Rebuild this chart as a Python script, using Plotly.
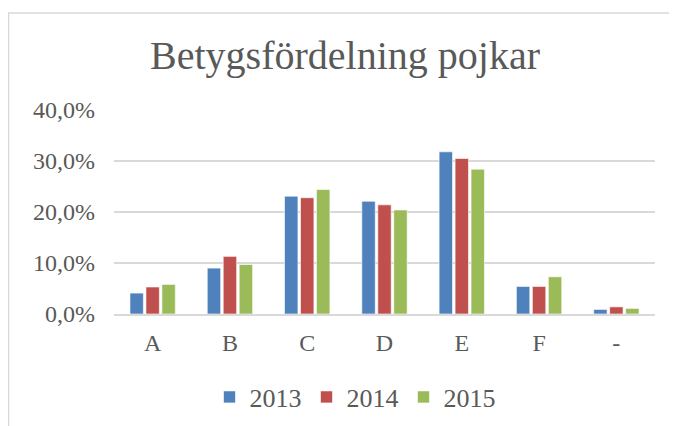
import plotly.graph_objects as go

categories = ["A", "B", "C", "D", "E", "F", "-"]
series_names = ["2013", "2014", "2015"]
values_2013 = [4.1, 9.0, 23.1, 22.1, 31.8, 5.4, 0.9]
values_2014 = [5.3, 11.3, 22.8, 21.4, 30.5, 5.4, 1.4]
values_2015 = [5.8, 9.7, 24.4, 20.4, 28.4, 7.3, 1.1]
colors = ["#4F81BD", "#C0504D", "#9BBB59"]
y_ticks = [0, 0.1, 0.2, 0.3, 0.4]

FONT = "Liberation Serif"
TEXT = "#595959"

fig = go.Figure()
for name, vals, col in zip(series_names, [values_2013, values_2014, values_2015], colors):
    fig.add_trace(go.Bar(
        x=categories, y=[v / 100 for v in vals], name=name,
        marker=dict(color=col, line=dict(color="rgba(255,255,255,0.6)", width=1)),
    ))

# page body has an 8px margin; figure coordinates = screen - 8
OFF = 8
W, H = 677 - OFF, 426 - OFF
L, R, T, B = 114 - OFF, 655 - OFF, 110 - OFF, 314 - OFF
pw, ph = R - L, B - T

fig.update_layout(
    width=W, height=H,
    margin=dict(l=L, r=W - R, t=T, b=H - B, autoexpand=False),
    paper_bgcolor="white", plot_bgcolor="white",
    separators=", ",
    barmode="group", bargap=0.38, bargroupgap=0.16,
    title=dict(text="Betygsfördelning pojkar", x=(345 - OFF - L) / pw, xref="paper", xanchor="center",
               y=1 - (55 - OFF) / H, yanchor="middle",
               font=dict(family=FONT, size=40, color=TEXT)),
    font=dict(family=FONT, size=22, color=TEXT),
    legend=dict(orientation="h", x=(355 - OFF - L) / pw, xanchor="center",
                y=(B - (397 - OFF)) / ph, yanchor="middle",
                font=dict(family=FONT, size=26, color=TEXT), traceorder="normal",
                itemwidth=30),
    yaxis=dict(range=[0, 0.4], tickvals=y_ticks, tickformat=".1%",
               showgrid=True, gridcolor="#D9D9D9", gridwidth=1.5,
               zeroline=False, showline=False, ticks="", ticklen=0,
               automargin=False, ticklabelstandoff=18,
               tickfont=dict(family=FONT, size=24, color=TEXT)),
    xaxis=dict(showline=True, linecolor="#D9D9D9", linewidth=1.5, ticks="",
               automargin=False, ticklabelstandoff=6,
               tickfont=dict(family=FONT, size=24, color=TEXT)),
    shapes=[dict(type="rect", xref="paper", yref="paper",
                 x0=(8.5 - OFF - L) / pw, x1=(W + 5 - L) / pw,
                 y0=(B - (H + 5)) / ph, y1=(B - (13 - OFF)) / ph,
                 line=dict(color="#D9D9D9", width=1.5), layer="below")],
)

fig.write_html("out.html")
